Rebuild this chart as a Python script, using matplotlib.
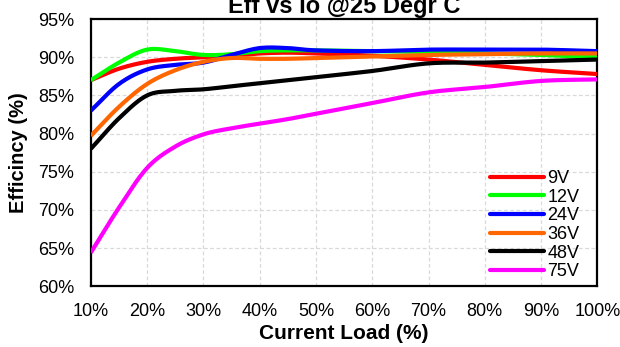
import numpy as np
import matplotlib
matplotlib.use("Agg")
import matplotlib.pyplot as plt

plt.rcParams['font.family'] = ['Liberation Sans', 'DejaVu Sans']

# Load points (% of rated current)
load = [10, 15, 20, 25, 30, 35, 40, 45, 50, 60, 70, 80, 90, 100]

# Efficiency (%) per input voltage
eff_9v = [87.0, 88.5, 89.4, 89.8, 90.0, 90.2, 90.5, 90.6, 90.5, 90.2, 89.7, 89.0, 88.3, 87.8]
eff_12v = [87.0, 89.3, 91.0, 90.8, 90.3, 90.4, 90.8, 90.9, 90.9, 90.8, 90.7, 90.5, 90.3, 90.0]
eff_24v = [83.0, 86.5, 88.4, 89.0, 89.3, 90.3, 91.2, 91.2, 90.9, 90.8, 91.0, 91.0, 91.0, 90.8]
eff_36v = [79.7, 83.5, 86.5, 88.3, 89.4, 89.9, 89.8, 89.8, 89.9, 90.1, 90.3, 90.4, 90.5, 90.5]
eff_48v = [78.0, 82.0, 85.0, 85.6, 85.8, 86.2, 86.6, 87.0, 87.4, 88.2, 89.2, 89.3, 89.5, 89.7]
eff_75v = [64.4, 70.3, 75.5, 78.3, 79.9, 80.7, 81.3, 81.9, 82.6, 84.0, 85.4, 86.1, 86.9, 87.1]

labels = ["9V", "12V", "24V", "36V", "48V", "75V"]
colors = ["#ff0000", "#00ff00", "#0000ff", "#ff6600", "#000000", "#ff00ff"]
series = [eff_9v, eff_12v, eff_24v, eff_36v, eff_48v, eff_75v]

xticks = [10, 20, 30, 40, 50, 60, 70, 80, 90, 100]
yticks = [60, 65, 70, 75, 80, 85, 90, 95]


def smooth(x, y, n=20):
    """Catmull-Rom spline through the points, like a spreadsheet smoothed line."""
    x = np.asarray(x, float)
    y = np.asarray(y, float)
    px = np.concatenate([[2 * x[0] - x[1]], x, [2 * x[-1] - x[-2]]])
    py = np.concatenate([[2 * y[0] - y[1]], y, [2 * y[-1] - y[-2]]])
    xs, ys = [], []
    t = np.linspace(0, 1, n, endpoint=False)
    for i in range(1, len(px) - 2):
        for arr, out in ((px, xs), (py, ys)):
            p0, p1, p2, p3 = arr[i - 1], arr[i], arr[i + 1], arr[i + 2]
            out.extend(0.5 * ((2 * p1) + (-p0 + p2) * t
                              + (2 * p0 - 5 * p1 + 4 * p2 - p3) * t ** 2
                              + (-p0 + 3 * p1 - 3 * p2 + p3) * t ** 3))
    xs.append(x[-1])
    ys.append(y[-1])
    return np.array(xs), np.array(ys)


fig = plt.figure(figsize=(6.2, 3.47), dpi=100)
ax = fig.add_axes([0.1465, 0.175, 0.817, 0.770])

for vals, lab, col in zip(series, labels, colors):
    sx, sy = smooth(load, vals)
    ax.plot(sx, sy, color=col, lw=3.0, label=lab, solid_capstyle='butt', zorder=3)

ax.set_xlim(10, 100)
ax.set_ylim(60, 95)
ax.set_xticks(xticks)
ax.set_xticklabels([f"{v}%" for v in xticks])
ax.set_yticks(yticks)
ax.set_yticklabels([f"{v}%" for v in yticks])
ax.tick_params(axis='x', length=0, labelsize=13, pad=12)
ax.tick_params(axis='y', length=0, labelsize=13, pad=12)
ax.grid(True, color="#d9d9d9", lw=0.9, ls=(0, (3, 2)))
for s in ax.spines.values():
    s.set_linewidth(1.6)
    s.set_color("black")

ax.set_xlabel("Current Load (%)", fontsize=15, fontweight='bold', va='center')
ax.set_ylabel("Efficincy (%)", fontsize=14.5, fontweight='bold', va='center')
ax.xaxis.set_label_coords(0.5, -0.176)
ax.yaxis.set_label_coords(-0.142, 0.5)

fig.text(0.555, 0.962, "Eff vs Io @25 Degr C", ha='center', va='baseline',
         fontsize=17, fontweight='bold')

leg = ax.legend(loc='lower right', bbox_to_anchor=(0.99, -0.025), frameon=False,
                fontsize=13, handlelength=3.0, handletextpad=0.2,
                labelspacing=0.09, borderaxespad=0.3)
for h in leg.get_lines():
    h.set_solid_capstyle('round')

fig.savefig("out.png", dpi=100)
